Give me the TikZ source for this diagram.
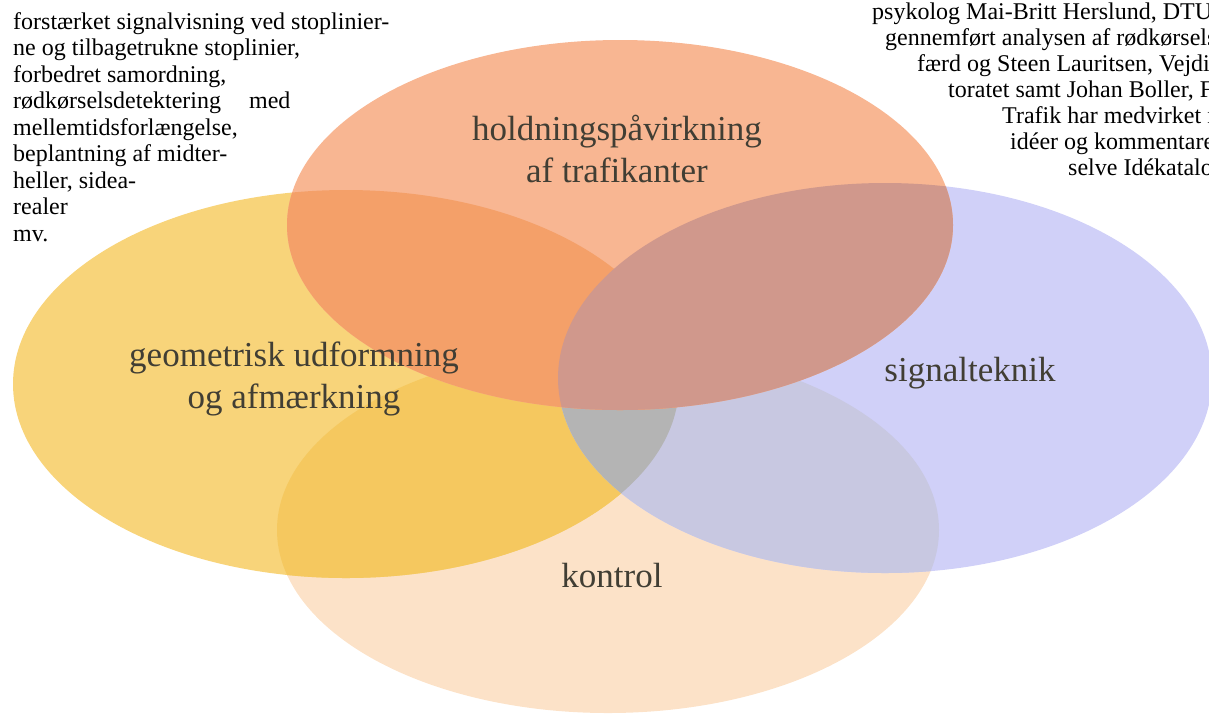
\documentclass[tikz,border=0pt]{standalone}
\usepackage{fontspec}
\setmainfont{Liberation Serif}
\usepackage{tikz}

\definecolor{holdfill}{RGB}{248,182,146}
\definecolor{geomfill}{RGB}{248,212,122}
\definecolor{signalfill}{RGB}{208,208,248}
\definecolor{kontrolfill}{RGB}{252,226,200}
\definecolor{holdgeom}{RGB}{244,160,105}
\definecolor{holdsignal}{RGB}{208,152,140}
\definecolor{geomkontrol}{RGB}{245,200,95}
\definecolor{signalkontrol}{RGB}{200,200,225}
\definecolor{midtgraa}{RGB}{180,180,180}
\definecolor{labeltext}{RGB}{65,62,52}

\def\ellhold{(620,225) ellipse [x radius=333pt, y radius=185pt]}
\def\ellgeom{(346,384) ellipse [x radius=333pt, y radius=194pt]}
\def\ellsignal{(885,378) ellipse [x radius=327pt, y radius=195pt]}
\def\ellkontrol{(608,530) ellipse [x radius=331pt, y radius=183pt]}

\begin{document}
\begin{tikzpicture}[x=1pt, y=-1pt,
	lbl/.style={font=\fontsize{35}{42}\selectfont, text=labeltext, align=center, anchor=base, inner sep=0pt},
	txt/.style={font=\fontsize{24}{26.5}\selectfont, anchor=base west, inner sep=0pt}]
	\useasboundingbox (0,0) rectangle (1209,716);
	\clip (0,0) rectangle (1209,716);

	% the four ellipses and their overlaps
	\fill[kontrolfill] \ellkontrol;
	\fill[geomfill] \ellgeom;
	\fill[signalfill] \ellsignal;
	\begin{scope}
		\clip \ellgeom;
		\fill[geomkontrol] \ellkontrol;
	\end{scope}
	\begin{scope}
		\clip \ellsignal;
		\fill[signalkontrol] \ellkontrol;
	\end{scope}
	\begin{scope}
		\clip \ellgeom;
		\fill[midtgraa] \ellsignal;
	\end{scope}
	\fill[holdfill] \ellhold;
	\begin{scope}
		\clip \ellhold;
		\fill[holdgeom] \ellgeom;
	\end{scope}
	\begin{scope}
		\clip \ellhold;
		\fill[holdsignal] \ellsignal;
	\end{scope}

	% labels (base = baseline of the last line)
	\node[lbl] (hold) at (617,182) {holdningspåvirkning\\af trafikanter};
	\node[lbl] (geom) at (294,408) {geometrisk udformning\\og afmærkning};
	\node[lbl] (signal) at (970,381) {signalteknik};
	\node[lbl] (kontrol) at (612,587) {kontrol};

	% text beside the figure
	\node[txt, align=left] (tiltag) at (13,241) {forstærket signalvisning ved stoplinier-\\
		ne og tilbagetrukne stoplinier,\\
		forbedret samordning,\\
		rødkørselsdetektering\hspace{28pt}med\\
		mellemtidsforlængelse,\\
		beplantning af midter-\\
		heller, sidea-\\
		realer\\
		mv.};

	\node[txt] (linje1) at (872,19)  {psykolog Mai-Britt Herslund, DTU};
	\node[txt] (linje2) at (885,45)  {gennemført analysen af rødkørsels};
	\node[txt] (linje3) at (917,71)  {færd og Steen Lauritsen, Vejdi};
	\node[txt] (linje4) at (948,97)  {toratet samt Johan Boller, F};
	\node[txt] (linje5) at (1002,123) {Trafik har medvirket m};
	\node[txt] (linje6) at (1010,149) {idéer og kommentare};
	\node[txt] (linje7) at (1068,175) {selve Idékatalo};
\end{tikzpicture}
\end{document}
